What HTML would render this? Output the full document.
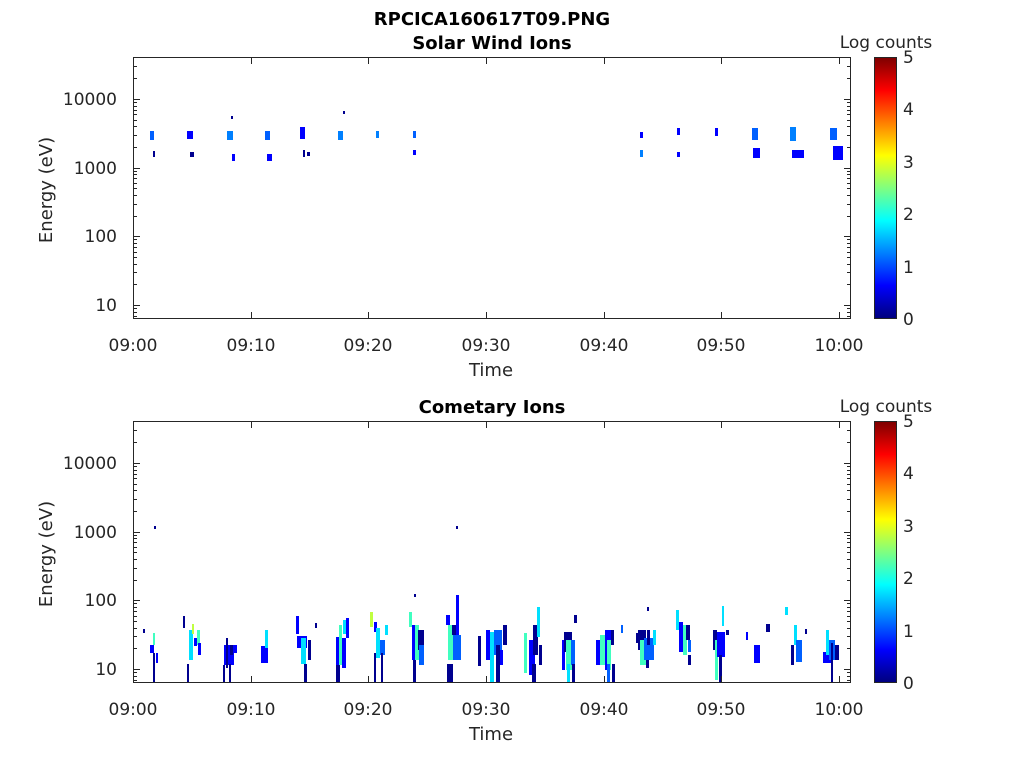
<!DOCTYPE html><html><head><meta charset="utf-8"><style>body{margin:0;background:#fff}svg{font-family:"DejaVu Sans","Liberation Sans",sans-serif}</style></head><body>
<svg width="1024" height="768" viewBox="0 0 1024 768">
<defs><linearGradient id="jet" x1="0" y1="1" x2="0" y2="0"><stop offset="0" stop-color="#00007f"/><stop offset=".125" stop-color="#0000ff"/><stop offset=".375" stop-color="#00ffff"/><stop offset=".625" stop-color="#ffff00"/><stop offset=".875" stop-color="#ff0000"/><stop offset="1" stop-color="#7f0000"/></linearGradient>
<path id="minL" d="M133 284.5h4M133 272.5h4M133 264.5h4M133 257.5h4M133 252.5h4M133 247.5h4M133 243.5h4M133 239.5h4M133 216.5h4M133 204.5h4M133 195.5h4M133 188.5h4M133 183.5h4M133 178.5h4M133 174.5h4M133 171.5h4M133 147.5h4M133 135.5h4M133 126.5h4M133 120.5h4M133 114.5h4M133 110.5h4M133 106.5h4M133 102.5h4M133 78.5h4M133 66.5h4M133 308.5h4M133 312.5h4M133 316.5h4M851 284.5h-4M851 272.5h-4M851 264.5h-4M851 257.5h-4M851 252.5h-4M851 247.5h-4M851 243.5h-4M851 239.5h-4M851 216.5h-4M851 204.5h-4M851 195.5h-4M851 188.5h-4M851 183.5h-4M851 178.5h-4M851 174.5h-4M851 171.5h-4M851 147.5h-4M851 135.5h-4M851 126.5h-4M851 120.5h-4M851 114.5h-4M851 110.5h-4M851 106.5h-4M851 102.5h-4M851 78.5h-4M851 66.5h-4M851 308.5h-4M851 312.5h-4M851 316.5h-4"/></defs>
<g font-weight="bold" font-size="18" text-anchor="middle" fill="#000">
<text x="492" y="25">RPCICA160617T09.PNG</text><text x="492" y="49">Solar Wind Ions</text><text x="492" y="413">Cometary Ions</text></g>
<g>
<rect x="150" y="131" width="4" height="9" fill="#0060ff"/><rect x="153" y="151" width="2" height="6" fill="#00008f"/>
<rect x="187" y="131" width="6" height="8" fill="#0000ff"/><rect x="190" y="152" width="4" height="5" fill="#00008f"/>
<rect x="227" y="131" width="6" height="9" fill="#0080ff"/><rect x="231" y="116" width="2" height="3" fill="#00008f"/><rect x="232" y="154" width="3" height="7" fill="#0000ff"/>
<rect x="265" y="131" width="5" height="9" fill="#0060ff"/><rect x="267" y="154" width="5" height="7" fill="#0000ff"/>
<rect x="300" y="127" width="5" height="12" fill="#0000ff"/><rect x="303" y="150" width="2" height="7" fill="#00008f"/><rect x="307" y="152" width="3" height="4" fill="#00008f"/>
<rect x="338" y="131" width="5" height="9" fill="#0080ff"/><rect x="343" y="111" width="2" height="3" fill="#00008f"/>
<rect x="376" y="131" width="3" height="7" fill="#0080ff"/>
<rect x="413" y="131" width="3" height="7" fill="#0060ff"/><rect x="413" y="150" width="3" height="5" fill="#0000ff"/>
<rect x="640" y="132" width="3" height="6" fill="#0000ff"/><rect x="640" y="150" width="3" height="7" fill="#0080ff"/>
<rect x="677" y="128" width="3" height="7" fill="#0000ff"/><rect x="677" y="152" width="3" height="5" fill="#0000ff"/>
<rect x="715" y="128" width="3" height="8" fill="#0000ff"/>
<rect x="752" y="128" width="6" height="12" fill="#0060ff"/><rect x="753" y="148" width="7" height="10" fill="#0000ff"/>
<rect x="790" y="127" width="6" height="14" fill="#0080ff"/><rect x="792" y="150" width="12" height="8" fill="#0000ff"/>
<rect x="830" y="128" width="7" height="12" fill="#0060ff"/><rect x="833" y="146" width="10" height="14" fill="#0000ff"/>
</g>
<g>
<rect x="143" y="629" width="2" height="4" fill="#00008f"/>
<rect x="150" y="645" width="4" height="8" fill="#0000ff"/><rect x="153" y="633" width="2" height="12" fill="#40ffc0"/><rect x="153" y="653" width="2" height="30" fill="#00008f"/><rect x="156" y="653" width="2" height="10" fill="#0000ff"/>
<rect x="154" y="526" width="2" height="3" fill="#00008f"/><rect x="456" y="526" width="2" height="3" fill="#00008f"/>
<rect x="183" y="616" width="2" height="12" fill="#00008f"/><rect x="189" y="630" width="4" height="30" fill="#00e0ff"/><rect x="192" y="624" width="2" height="10" fill="#c0ff40"/><rect x="194" y="638" width="3" height="8" fill="#0000ff"/><rect x="197" y="630" width="3" height="15" fill="#40ffc0"/><rect x="198" y="643" width="3" height="12" fill="#0000ff"/><rect x="187" y="664" width="2" height="19" fill="#00008f"/>
<rect x="224" y="645" width="10" height="20" fill="#0000ff"/><rect x="226" y="638" width="2" height="30" fill="#00008f"/><rect x="230" y="645" width="3" height="10" fill="#00008f"/><rect x="223" y="665" width="2" height="18" fill="#00008f"/><rect x="234" y="645" width="3" height="8" fill="#0000ff"/><rect x="229" y="664" width="2" height="19" fill="#00008f"/>
<rect x="261" y="646" width="7" height="17" fill="#0000ff"/><rect x="265" y="630" width="3" height="18" fill="#00e0ff"/>
<rect x="296" y="616" width="3" height="18" fill="#0000ff"/><rect x="297" y="636" width="10" height="12" fill="#0000ff"/><rect x="301" y="638" width="5" height="26" fill="#00e0ff"/><rect x="304" y="664" width="3" height="19" fill="#00008f"/><rect x="308" y="640" width="3" height="20" fill="#00008f"/><rect x="315" y="623" width="2" height="5" fill="#00008f"/>
<rect x="336" y="637" width="4" height="30" fill="#0000ff"/><rect x="339" y="625" width="3" height="40" fill="#40ffc0"/><rect x="342" y="638" width="4" height="30" fill="#0000ff"/><rect x="343" y="620" width="3" height="14" fill="#00e0ff"/><rect x="346" y="618" width="3" height="20" fill="#0000ff"/><rect x="336" y="665" width="4" height="18" fill="#00008f"/>
<rect x="370" y="612" width="3" height="15" fill="#c0ff40"/><rect x="374" y="622" width="3" height="10" fill="#0000ff"/><rect x="376" y="628" width="4" height="30" fill="#00e0ff"/><rect x="380" y="640" width="5" height="15" fill="#0060ff"/><rect x="374" y="653" width="2" height="30" fill="#00008f"/><rect x="381" y="653" width="2" height="30" fill="#00008f"/><rect x="385" y="625" width="3" height="10" fill="#00e0ff"/>
<rect x="409" y="612" width="3" height="15" fill="#40ffc0"/><rect x="412" y="625" width="6" height="35" fill="#0000ff"/><rect x="415" y="625" width="4" height="35" fill="#40ffc0"/><rect x="418" y="630" width="6" height="20" fill="#00008f"/><rect x="419" y="645" width="5" height="20" fill="#0060ff"/><rect x="413" y="660" width="3" height="23" fill="#00008f"/>
<rect x="446" y="615" width="4" height="10" fill="#0000ff"/><rect x="448" y="625" width="6" height="35" fill="#40ffc0"/><rect x="452" y="625" width="4" height="10" fill="#00008f"/><rect x="453" y="635" width="8" height="25" fill="#0060ff"/><rect x="456" y="595" width="3" height="40" fill="#0000ff"/><rect x="447" y="664" width="6" height="19" fill="#00008f"/><rect x="414" y="594" width="2" height="3" fill="#00008f"/>
<rect x="478" y="636" width="3" height="30" fill="#00008f"/><rect x="486" y="630" width="4" height="30" fill="#0000ff"/><rect x="490" y="632" width="4" height="50" fill="#00e0ff"/><rect x="494" y="630" width="8" height="25" fill="#0060ff"/><rect x="496" y="645" width="4" height="38" fill="#00008f"/><rect x="503" y="625" width="4" height="20" fill="#00008f"/><rect x="500" y="650" width="3" height="15" fill="#0000ff"/>
<rect x="524" y="633" width="3" height="40" fill="#40ffc0"/><rect x="529" y="640" width="6" height="35" fill="#0000ff"/><rect x="533" y="625" width="5" height="30" fill="#00008f"/><rect x="537" y="607" width="3" height="30" fill="#00e0ff"/><rect x="539" y="645" width="3" height="20" fill="#00008f"/><rect x="532" y="664" width="4" height="19" fill="#00008f"/>
<rect x="562" y="640" width="3" height="30" fill="#0000ff"/><rect x="564" y="632" width="8" height="20" fill="#00008f"/><rect x="566" y="640" width="6" height="30" fill="#40ffc0"/><rect x="571" y="640" width="4" height="25" fill="#0060ff"/><rect x="567" y="664" width="3" height="19" fill="#00e0ff"/><rect x="572" y="664" width="3" height="19" fill="#00008f"/><rect x="574" y="615" width="3" height="8" fill="#00008f"/>
<rect x="596" y="640" width="5" height="25" fill="#0000ff"/><rect x="600" y="635" width="6" height="30" fill="#40ffc0"/><rect x="605" y="630" width="6" height="40" fill="#0000ff"/><rect x="607" y="640" width="4" height="30" fill="#40ffc0"/><rect x="611" y="630" width="3" height="15" fill="#00008f"/><rect x="607" y="664" width="3" height="19" fill="#0060ff"/><rect x="612" y="664" width="3" height="19" fill="#00008f"/><rect x="621" y="625" width="2" height="8" fill="#0060ff"/>
<rect x="636" y="633" width="3" height="10" fill="#00008f"/><rect x="638" y="630" width="8" height="20" fill="#00008f"/><rect x="640" y="640" width="6" height="25" fill="#40ffc0"/><rect x="644" y="638" width="10" height="22" fill="#0060ff"/><rect x="647" y="630" width="3" height="15" fill="#00008f"/><rect x="653" y="630" width="3" height="15" fill="#00e0ff"/><rect x="646" y="660" width="3" height="8" fill="#00008f"/><rect x="647" y="607" width="2" height="4" fill="#00008f"/>
<rect x="676" y="610" width="3" height="20" fill="#00e0ff"/><rect x="679" y="622" width="4" height="30" fill="#0000ff"/><rect x="683" y="625" width="4" height="30" fill="#40ffc0"/><rect x="686" y="625" width="4" height="15" fill="#00008f"/><rect x="688" y="640" width="3" height="12" fill="#0060ff"/><rect x="688" y="655" width="3" height="10" fill="#00008f"/>
<rect x="713" y="630" width="4" height="20" fill="#00008f"/><rect x="715" y="640" width="3" height="40" fill="#40ffc0"/><rect x="717" y="632" width="8" height="25" fill="#0000ff"/><rect x="722" y="606" width="2" height="20" fill="#00e0ff"/><rect x="719" y="655" width="3" height="28" fill="#00008f"/><rect x="726" y="630" width="3" height="5" fill="#00008f"/>
<rect x="746" y="632" width="2" height="8" fill="#0000ff"/><rect x="754" y="645" width="6" height="18" fill="#0000ff"/><rect x="766" y="624" width="4" height="8" fill="#00008f"/><rect x="785" y="607" width="3" height="8" fill="#00e0ff"/>
<rect x="791" y="645" width="3" height="20" fill="#00008f"/><rect x="794" y="625" width="3" height="20" fill="#00e0ff"/><rect x="796" y="640" width="6" height="22" fill="#0060ff"/><rect x="805" y="629" width="2" height="5" fill="#00008f"/>
<rect x="823" y="652" width="8" height="11" fill="#0000ff"/><rect x="826" y="630" width="3" height="25" fill="#00e0ff"/><rect x="829" y="640" width="6" height="20" fill="#0060ff"/><rect x="831" y="643" width="2" height="40" fill="#00008f"/><rect x="835" y="645" width="4" height="15" fill="#00008f"/>
</g>
<g fill="none" stroke="#262626" stroke-width="1">
<rect x="133.5" y="57.5" width="717" height="261"/><rect x="133.5" y="421.5" width="717" height="261"/>
<rect x="874.5" y="57.5" width="22" height="261"/><rect x="874.5" y="421.5" width="22" height="261"/>
</g>
<rect x="875" y="58" width="21" height="260" fill="url(#jet)"/><rect x="875" y="422" width="21" height="260" fill="url(#jet)"/>
<g stroke="#262626" stroke-width="1">
<path d="M133.5 319v-7M251.5 319v-7M368.5 319v-7M486.5 319v-7M604.5 319v-7M721.5 319v-7M839.5 319v-7M133.5 57v7M251.5 57v7M368.5 57v7M486.5 57v7M604.5 57v7M721.5 57v7M839.5 57v7"/>
<path d="M133.5 683v-7M251.5 683v-7M368.5 683v-7M486.5 683v-7M604.5 683v-7M721.5 683v-7M839.5 683v-7M133.5 421v7M251.5 421v7M368.5 421v7M486.5 421v7M604.5 421v7M721.5 421v7M839.5 421v7"/>
<path d="M133 99.5h7M133 168.5h7M133 236.5h7M133 305.5h7M851 99.5h-7M851 168.5h-7M851 236.5h-7M851 305.5h-7"/>
<path d="M133 463.5h7M133 532.5h7M133 600.5h7M133 669.5h7M851 463.5h-7M851 532.5h-7M851 600.5h-7M851 669.5h-7"/>
<use href="#minL"/><use href="#minL" transform="translate(0 364)"/>
</g>
<g fill="#262626" font-size="17" text-anchor="middle">
<text x="133" y="351">09:00</text><text x="251" y="351">09:10</text><text x="368" y="351">09:20</text><text x="486" y="351">09:30</text><text x="604" y="351">09:40</text><text x="721" y="351">09:50</text><text x="839" y="351">10:00</text>
<text x="133" y="715">09:00</text><text x="251" y="715">09:10</text><text x="368" y="715">09:20</text><text x="486" y="715">09:30</text><text x="604" y="715">09:40</text><text x="721" y="715">09:50</text><text x="839" y="715">10:00</text>
<text x="491" y="376" font-size="18">Time</text><text x="491" y="740" font-size="18">Time</text>
<text x="886" y="48">Log counts</text><text x="886" y="412">Log counts</text>
</g>
<g fill="#262626" font-size="17" text-anchor="end">
<text x="117" y="105">10000</text><text x="117" y="174">1000</text><text x="117" y="242">100</text><text x="117" y="311">10</text>
<text x="117" y="469">10000</text><text x="117" y="538">1000</text><text x="117" y="606">100</text><text x="117" y="675">10</text>
</g>
<g fill="#262626" font-size="17">
<text x="903" y="325">0</text><text x="903" y="273">1</text><text x="903" y="220">2</text><text x="903" y="168">3</text><text x="903" y="115">4</text><text x="903" y="63">5</text>
<text x="903" y="689">0</text><text x="903" y="637">1</text><text x="903" y="584">2</text><text x="903" y="532">3</text><text x="903" y="479">4</text><text x="903" y="427">5</text>
</g>
<g fill="#262626" font-size="18" text-anchor="middle">
<text transform="translate(52 190) rotate(-90)">Energy (eV)</text><text transform="translate(52 554) rotate(-90)">Energy (eV)</text>
</g>
</svg></body></html>
